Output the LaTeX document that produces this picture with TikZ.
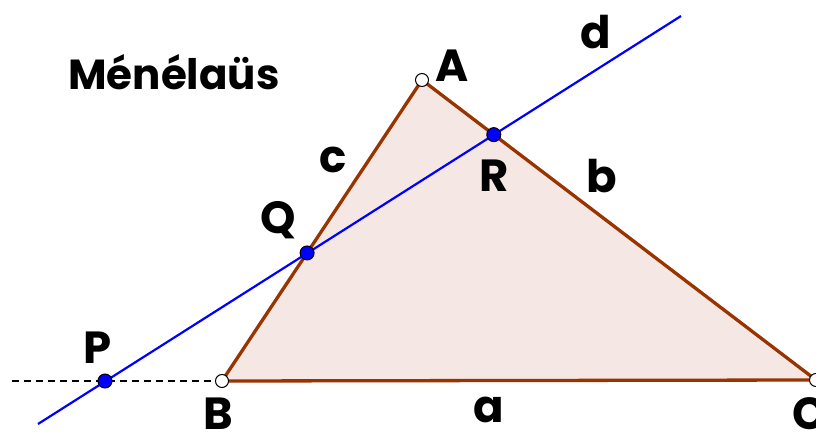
\documentclass[tikz,border=0pt]{standalone}
\usepackage{fontspec}
\setmainfont{Poppins}
\usetikzlibrary{positioning, calc}
\definecolor{EdgeBrown}{HTML}{993300}
\definecolor{FillPink}{HTML}{F5E8E4}
\definecolor{LineBlue}{HTML}{0000FF}

\tikzset{
  ptname/.style={font=\fontsize{45}{45}\selectfont\bfseries, inner sep=0pt},
  bluept/.style={fill=LineBlue, draw=black, line width=1pt},
  openpt/.style={fill=white, draw=black, line width=1pt}
}

\begin{document}
\begin{tikzpicture}[x=1pt, y=-1pt]
    \useasboundingbox (0,0) rectangle (816,435);

    % Vertices and line d
    \coordinate (A) at (422,80);
    \coordinate (B) at (222,381);
    \coordinate (C) at (816,380);
    \coordinate (P) at (105,381);
    \coordinate (dEnd) at (681,16);
    \coordinate (dStart) at (38,424);
    \coordinate (Q) at (intersection of A--B and P--dEnd);
    \coordinate (R) at (intersection of A--C and P--dEnd);
    \coordinate (dashEnd) at (12,381);

    % Triangle
    \filldraw[fill=FillPink, draw=EdgeBrown, line width=3.3pt, line join=round] (A) -- (B) -- (C) -- cycle;

    % Extension of BC
    \draw[line width=1.5pt, dash pattern=on 7pt off 5pt] (dashEnd) -- (B);

    % Line d
    \draw[color=LineBlue, line width=2.2pt] (dStart) -- (dEnd);

    % Points
    \filldraw[openpt] (A) circle (6.5pt);
    \filldraw[openpt] (B) circle (6.5pt);
    \filldraw[openpt] (C) circle (6.5pt);
    \filldraw[bluept] (P) circle (7pt);
    \filldraw[bluept] (Q) circle (7pt);
    \filldraw[bluept] (R) circle (7pt);

    % Labels
    \node[font=\fontsize{42}{42}\selectfont\bfseries, inner sep=0pt] (title) at (174,72) {Ménélaüs};
    \node[ptname] (labA) at (452,66) {A};
    \node[ptname] (labB) at (218,414) {B};
    \node[ptname] (labC) at (810,414) {C};
    \node[ptname] (labP) at (98,348) {P};
    \node[ptname] (labQ) at (278,220) {Q};
    \node[ptname] (labR) at (494,176) {R};
    \node[ptname] (laba) at (489,410) {a};
    \node[ptname] (labb) at (602,176) {b};
    \node[ptname] (labc) at (333,160) {c};
    \node[ptname] (labd) at (596,32) {d};
\end{tikzpicture}
\end{document}
